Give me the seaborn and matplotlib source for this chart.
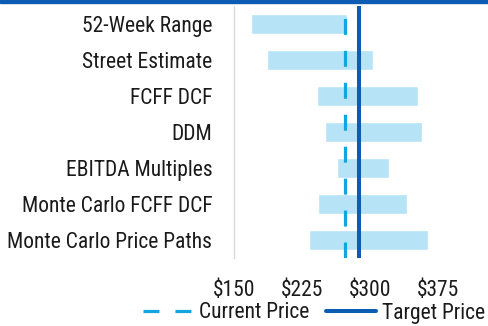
import matplotlib
matplotlib.use("Agg")
import matplotlib.pyplot as plt
import seaborn as sns
import pandas as pd
from matplotlib.lines import Line2D
from matplotlib.patches import Rectangle

# Valuation ranges (low / high) by method
methods = ["52-Week Range", "Street Estimate", "FCFF DCF", "DDM",
           "EBITDA Multiples", "Monte Carlo FCFF DCF", "Monte Carlo Price Paths"]
low = [168, 186, 241, 250, 263, 242, 232]
high = [274, 303, 353, 357, 321, 341, 364]
current_price = 272
target_price = 288
tick_values = [150, 225, 300, 375]
tick_labels = ["$150", "$225", "$300", "$375"]

BAR = "#b7e3f7"
CUR = "#12a6e0"
TGT = "#0b5cb2"
TXT = "#1a1a1a"
FS = 15.5

sns.set_theme(style="white")
plt.rcParams["font.family"] = ["Roboto Condensed", "DejaVu Sans"]

df = pd.DataFrame({"method": methods, "low": low, "high": high})
df["span"] = df["high"] - df["low"]

fig = plt.figure(figsize=(4.89, 3.26), dpi=100)
ax = fig.add_axes([234.5 / 489, 1 - 258 / 326, 1 - 234.5 / 489, 252 / 326])

sns.barplot(data=df, y="method", x="span", orient="h", color=BAR,
            saturation=1, width=0.56, ax=ax, zorder=1)
for patch, lo in zip(ax.patches, df["low"]):
    patch.set_x(lo)

ax.axvline(current_price, color=CUR, lw=2.3, linestyle=(0, (5, 5)), zorder=3)
ax.axvline(target_price, color=TGT, lw=2.9, zorder=3)

ax.set_xlim(150.5, 431)
ax.set_ylim(6.5, -0.5)
ax.set_xticks(tick_values)
ax.set_xticklabels(tick_labels)
ax.set_xlabel("")
ax.set_ylabel("")
ax.tick_params(axis="both", length=0, labelsize=FS, colors=TXT)
ax.tick_params(axis="y", pad=16)
ax.tick_params(axis="x", pad=16)

for side in ["top", "right", "bottom"]:
    ax.spines[side].set_visible(False)
ax.spines["left"].set_color("#d9d9d9")
ax.spines["left"].set_linewidth(1.0)

# thin accent band along the top edge
fig.patches.append(Rectangle((0, 1 - 2.5 / 326), 1, 2.5 / 326,
                             transform=fig.transFigure, color=TGT, zorder=5))

handles = [Line2D([], [], color=CUR, lw=2.3, linestyle=(0, (5, 5))),
           Line2D([], [], color=TGT, lw=2.9)]
fig.legend(handles, ["Current Price", "Target Price"], loc="center",
           bbox_to_anchor=(314 / 489, 1 - 313 / 326), ncol=2, frameon=False,
           fontsize=FS, handlelength=2.3, handletextpad=0.3, columnspacing=0.8,
           labelcolor=TXT)

fig.savefig("out.png", dpi=100)
